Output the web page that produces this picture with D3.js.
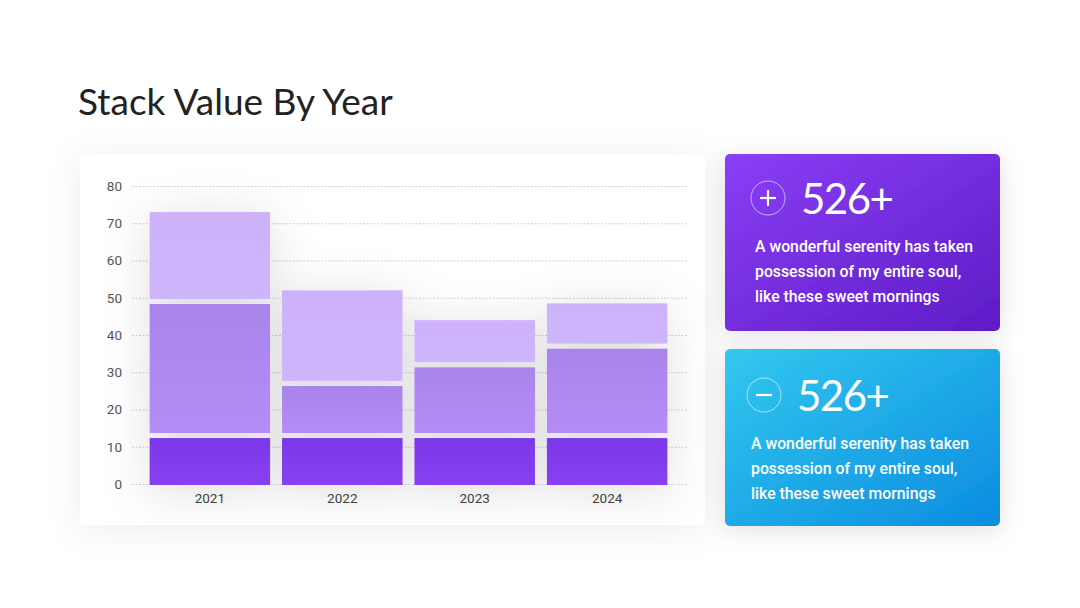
<!DOCTYPE html>
<html>
<head>
<meta charset="utf-8">
<script src="https://cdn.jsdelivr.net/npm/d3@7"></script>
<style>
  html, body { margin: 0; padding: 0; background: #fff; }
  svg { display: block; }
</style>
</head>
<body>
<svg id="chart" width="1080" height="608"></svg>
<script>
const years = ["2021", "2022", "2023", "2024"];
const baseValues = [13, 13, 13, 13];
const midValues = [36, 14, 19, 24];
const topValues = [24, 25, 12, 11.5];
const yTicks = [0, 10, 20, 30, 40, 50, 60, 70, 80];

const cards = [
  { value: "526+", icon: "+", text: ["A wonderful serenity has taken", "possession of my entire soul,", "like these sweet mornings"] },
  { value: "526+", icon: "-", text: ["A wonderful serenity has taken", "possession of my entire soul,", "like these sweet mornings"] }
];

const svg = d3.select("#chart");
const defs = svg.append("defs");

function shadow(id, blur, opacity, dy) {
  const f = defs.append("filter").attr("id", id)
    .attr("x", "-30%").attr("y", "-30%").attr("width", "160%").attr("height", "160%");
  f.append("feDropShadow").attr("dx", 0).attr("dy", dy).attr("stdDeviation", blur)
    .attr("flood-color", "#000").attr("flood-opacity", opacity);
}
shadow("cardShadow", 18, 0.07, 4);
shadow("barShadow", 24, 0.13, 6);
shadow("boxShadow", 12, 0.12, 4);

function grad(id, stops, x2, y2) {
  const g = defs.append("linearGradient").attr("id", id)
    .attr("x1", 0).attr("y1", 0).attr("x2", x2).attr("y2", y2);
  stops.forEach(([o, c]) => g.append("stop").attr("offset", o).attr("stop-color", c));
}
grad("g0", [[0, "#7b38e8"], [1, "#8840f2"]], 0, 1);
grad("g1", [[0, "#a984ea"], [1, "#b48cf7"]], 0, 1);
grad("g2", [[0, "#cdb2fa"], [1, "#cfb5fb"]], 0, 1);
grad("purpleCard", [[0, "#8a3ff5"], [1, "#5d1cc6"]], 1, 1);
grad("blueCard", [[0, "#33c8ef"], [1, "#0b8ce0"]], 1, 1);

// title
svg.append("text")
  .attr("x", 78).attr("y", 115)
  .attr("font-family", "Lato, 'Open Sans', sans-serif")
  .attr("font-size", 37)
  .attr("fill", "#222")
  .text("Stack Value By Year");

// chart card
svg.append("rect")
  .attr("x", 80).attr("y", 155).attr("width", 625).attr("height", 370)
  .attr("rx", 4).attr("fill", "#fff")
  .attr("filter", "url(#cardShadow)");

const margin = { top: 186, left: 132, right: 688, bottom: 484 };
const x = d3.scaleBand().domain(years).range([143, 674]).paddingInner(0.09).paddingOuter(0.05);
const y = d3.scaleLinear().domain([0, 80]).range([margin.bottom, margin.top]);

const table = years.map((yr, i) => ({ year: yr, a: baseValues[i], b: midValues[i], c: topValues[i] }));
const series = d3.stack().keys(["a", "b", "c"])(table);

// grid
svg.append("g")
  .selectAll("line")
  .data(yTicks)
  .join("line")
  .attr("x1", margin.left).attr("x2", margin.right)
  .attr("y1", d => y(d) + 0.5).attr("y2", d => y(d) + 0.5)
  .attr("stroke", "#d2d2d2").attr("stroke-dasharray", "2,1.5");

// y axis
const yAxis = svg.append("g")
  .attr("transform", `translate(${margin.left - 10},0)`)
  .call(d3.axisLeft(y).tickValues(yTicks).tickSize(0).tickPadding(0));
yAxis.select(".domain").remove();
yAxis.selectAll("text")
  .attr("font-family", "Roboto, sans-serif").attr("font-size", 13.5).attr("fill", "#555");

// x axis
const xAxis = svg.append("g")
  .attr("transform", `translate(0,${margin.bottom})`)
  .call(d3.axisBottom(x).tickSize(0).tickPadding(9));
xAxis.select(".domain").remove();
xAxis.selectAll("text")
  .attr("font-family", "Roboto, sans-serif").attr("font-size", 13.5).attr("fill", "#444");

// bars
const gap = 5;
const bars = svg.append("g").attr("filter", "url(#barShadow)");
series.forEach((s, si) => {
  bars.append("g")
    .attr("fill", `url(#g${si})`)
    .selectAll("rect")
    .data(s)
    .join("rect")
    .attr("x", d => x(d.data.year))
    .attr("width", x.bandwidth())
    .attr("y", d => y(d[1]) + (si < 2 ? gap / 2 : 0))
    .attr("height", d => {
      const top = y(d[1]) + (si < 2 ? gap / 2 : 0);
      const bot = y(d[0]) - (si > 0 ? gap / 2 : -1);
      return bot - top;
    });
});

// side cards
const cardPos = [
  { x: 725, y: 154, fill: "url(#purpleCard)" },
  { x: 725, y: 349, fill: "url(#blueCard)" }
];
cards.forEach((c, i) => {
  const p = cardPos[i];
  const g = svg.append("g").attr("transform", `translate(${p.x},${p.y})`);
  g.append("rect").attr("width", 275).attr("height", 177).attr("rx", 5)
    .attr("fill", p.fill).attr("filter", "url(#boxShadow)");
  const cx = i === 0 ? 43 : 39, cy = i === 0 ? 44 : 46;
  g.append("circle").attr("cx", cx).attr("cy", cy).attr("r", 17)
    .attr("fill", "none").attr("stroke", "rgba(255,255,255,0.6)").attr("stroke-width", 1);
  g.append("line").attr("x1", cx - 8).attr("x2", cx + 8).attr("y1", cy).attr("y2", cy)
    .attr("stroke", "#fff").attr("stroke-width", 2.2);
  if (c.icon === "+") {
    g.append("line").attr("x1", cx).attr("x2", cx).attr("y1", cy - 8).attr("y2", cy + 8)
      .attr("stroke", "#fff").attr("stroke-width", 2.2);
  }
  g.append("text")
    .attr("x", cx + 33).attr("y", cy + 16)
    .attr("font-family", "Lato, 'Open Sans', sans-serif")
    .attr("font-size", 42).attr("letter-spacing", -1.5).attr("fill", "#fff")
    .text(c.value);
  g.append("g").selectAll("text")
    .data(c.text)
    .join("text")
    .attr("x", cx - 13)
    .attr("y", (d, k) => cy + 54 + k * 25)
    .attr("font-family", "Roboto, sans-serif")
    .attr("font-weight", 500)
    .attr("font-size", 15.8).attr("fill", "#fff")
    .text(d => d);
});
</script>
</body>
</html>
